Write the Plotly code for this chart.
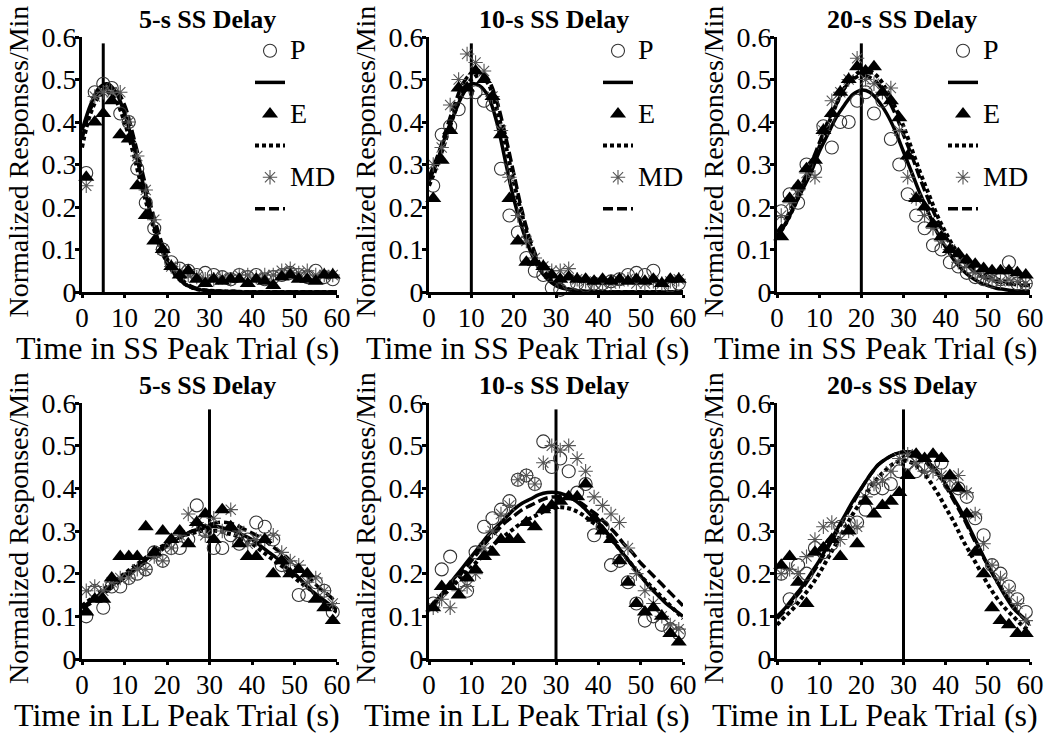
import plotly.graph_objects as go

# ---------------- data ----------------
x_pts = [1, 3, 5, 7, 9, 11, 13, 15, 17, 19, 21, 23, 25, 27, 29,
         31, 33, 35, 37, 39, 41, 43, 45, 47, 49, 51, 53, 55, 57, 59]
curve_x = [0, 2, 4, 6, 8, 10, 12, 14, 16, 18, 20, 22, 24, 26, 28, 30,
           32, 34, 36, 38, 40, 42, 44, 46, 48, 50, 52, 54, 56, 58, 60]

panel_titles = ["5-s SS Delay", "10-s SS Delay", "20-s SS Delay",
                "5-s SS Delay", "10-s SS Delay", "20-s SS Delay"]
x_titles = ["Time in SS Peak Trial (s)"] * 3 + ["Time in LL Peak Trial (s)"] * 3
y_title = "Normalized Responses/Min"
delays = [5, 10, 20, 30, 30, 30]
vline_top = 0.585
x_ticks = [0, 10, 20, 30, 40, 50, 60]
y_ticks = [0, 0.1, 0.2, 0.3, 0.4, 0.5, 0.6]
y_ticktext = ["0", "0.1", "0.2", "0.3", "0.4", "0.5", "0.6"]
series_names = ["P", "E", "MD"]

# Panel 1: 5-s SS delay, SS peak trials
P1 = [0.28, 0.47, 0.49, 0.48, 0.42, 0.40, 0.29, 0.21, 0.15, 0.10,
      0.07, 0.055, 0.05, 0.04, 0.045, 0.04, 0.035, 0.03, 0.04, 0.035,
      0.04, 0.03, 0.035, 0.04, 0.045, 0.04, 0.035, 0.05, 0.035, 0.03]
E1 = [0.27, 0.40, 0.42, 0.45, 0.37, 0.36, 0.25, 0.18, 0.12, 0.10,
      0.06, 0.04, 0.05, 0.03, 0.02, 0.03, 0.025, 0.03, 0.03, 0.02,
      0.03, 0.025, 0.015, 0.035, 0.04, 0.03, 0.03, 0.025, 0.04, 0.04]
MD1 = [0.25, 0.46, 0.47, 0.47, 0.47, 0.40, 0.32, 0.24, 0.17, 0.10,
       0.06, 0.05, 0.04, 0.035, 0.03, 0.03, 0.035, 0.03, 0.04, 0.04,
       0.035, 0.04, 0.04, 0.05, 0.055, 0.045, 0.05, 0.04, 0.04, 0.04]
fitP1 = [0.38, 0.44, 0.48, 0.49, 0.47, 0.42, 0.35, 0.27, 0.19, 0.12,
         0.07, 0.04, 0.02, 0.01, 0.005, 0.003, 0.002, 0.001, 0.001, 0,
         0, 0, 0, 0, 0, 0, 0, 0, 0, 0, 0]
fitE1 = [0.34, 0.42, 0.46, 0.47, 0.45, 0.40, 0.33, 0.25, 0.18, 0.115,
         0.07, 0.04, 0.02, 0.01, 0.005, 0.003, 0.002, 0.001, 0.001, 0,
         0, 0, 0, 0, 0, 0, 0, 0, 0, 0, 0]
fitMD1 = [0.36, 0.43, 0.47, 0.48, 0.475, 0.44, 0.37, 0.29, 0.21, 0.14,
          0.08, 0.045, 0.025, 0.012, 0.006, 0.003, 0.002, 0.001, 0.001, 0,
          0, 0, 0, 0, 0, 0, 0, 0, 0, 0, 0]

# Panel 2: 10-s SS delay, SS peak trials
P2 = [0.25, 0.37, 0.39, 0.43, 0.47, 0.47, 0.45, 0.44, 0.29, 0.18,
      0.14, 0.08, 0.05, 0.04, 0.01, 0.005, 0.02, 0.02, 0.015, 0.02,
      0.02, 0.025, 0.03, 0.04, 0.045, 0.04, 0.05, 0.01, 0.015, 0.02]
E2 = [0.22, 0.31, 0.38, 0.48, 0.48, 0.52, 0.50, 0.46, 0.37, 0.22,
      0.12, 0.07, 0.07, 0.06, 0.04, 0.03, 0.035, 0.03, 0.03, 0.025,
      0.03, 0.025, 0.03, 0.025, 0.03, 0.025, 0.03, 0.02, 0.03, 0.03]
MD2 = [0.30, 0.34, 0.44, 0.50, 0.56, 0.54, 0.52, 0.46, 0.38, 0.27,
       0.18, 0.12, 0.08, 0.06, 0.05, 0.05, 0.055, 0.03, 0.025, 0.02,
       0.02, 0.02, 0.025, 0.03, 0.02, 0.02, 0.025, 0.02, 0.025, 0.03]
fitP2 = [0.26, 0.31, 0.37, 0.42, 0.465, 0.49, 0.485, 0.46, 0.40, 0.31,
         0.22, 0.15, 0.095, 0.055, 0.03, 0.015, 0.008, 0.004, 0.002, 0.001,
         0, 0, 0, 0, 0, 0, 0, 0, 0, 0, 0]
fitE2 = [0.25, 0.30, 0.36, 0.42, 0.47, 0.50, 0.51, 0.49, 0.43, 0.35,
         0.26, 0.18, 0.11, 0.065, 0.035, 0.018, 0.009, 0.004, 0.002, 0.001,
         0, 0, 0, 0, 0, 0, 0, 0, 0, 0, 0]
fitMD2 = [0.27, 0.32, 0.38, 0.44, 0.49, 0.515, 0.52, 0.50, 0.45, 0.37,
          0.28, 0.19, 0.12, 0.07, 0.04, 0.02, 0.01, 0.005, 0.002, 0.001,
          0, 0, 0, 0, 0, 0, 0, 0, 0, 0, 0]

# Panel 3: 20-s SS delay, SS peak trials
P3 = [0.19, 0.23, 0.21, 0.30, 0.29, 0.39, 0.34, 0.40, 0.40, 0.45,
      0.47, 0.42, 0.45, 0.36, 0.30, 0.23, 0.18, 0.15, 0.11, 0.10,
      0.07, 0.06, 0.045, 0.035, 0.03, 0.025, 0.03, 0.07, 0.02, 0.02]
E3 = [0.13, 0.22, 0.25, 0.29, 0.31, 0.38, 0.42, 0.47, 0.50, 0.53,
      0.52, 0.53, 0.47, 0.45, 0.41, 0.32, 0.22, 0.20, 0.16, 0.13,
      0.10, 0.09, 0.075, 0.065, 0.055, 0.05, 0.05, 0.05, 0.045, 0.04]
MD3 = [0.18, 0.21, 0.24, 0.28, 0.27, 0.38, 0.45, 0.47, 0.50, 0.55,
       0.50, 0.49, 0.47, 0.48, 0.38, 0.27, 0.22, 0.18, 0.15, 0.12,
       0.10, 0.07, 0.06, 0.045, 0.035, 0.03, 0.025, 0.03, 0.025, 0.02]
fitP3 = [0.13, 0.16, 0.20, 0.24, 0.28, 0.33, 0.37, 0.41, 0.44, 0.465,
         0.475, 0.47, 0.45, 0.42, 0.38, 0.33, 0.28, 0.23, 0.185, 0.14,
         0.105, 0.075, 0.052, 0.035, 0.023, 0.015, 0.009, 0.006, 0.003, 0.002, 0.001]
fitE3 = [0.13, 0.16, 0.20, 0.245, 0.29, 0.34, 0.39, 0.44, 0.48, 0.505,
         0.52, 0.52, 0.505, 0.475, 0.435, 0.39, 0.335, 0.28, 0.23, 0.18,
         0.14, 0.105, 0.08, 0.06, 0.045, 0.035, 0.03, 0.025, 0.022, 0.02, 0.02]
fitMD3 = [0.14, 0.17, 0.21, 0.255, 0.30, 0.35, 0.40, 0.44, 0.48, 0.50,
          0.51, 0.505, 0.49, 0.46, 0.42, 0.37, 0.32, 0.265, 0.215, 0.17,
          0.13, 0.10, 0.075, 0.055, 0.04, 0.03, 0.025, 0.02, 0.018, 0.016, 0.015]

# Panel 4: 5-s SS delay, LL peak trials
P4 = [0.10, 0.16, 0.12, 0.17, 0.17, 0.19, 0.20, 0.21, 0.25, 0.23,
      0.26, 0.26, 0.28, 0.36, 0.30, 0.26, 0.26, 0.29, 0.27, 0.28,
      0.32, 0.31, 0.28, 0.22, 0.21, 0.15, 0.15, 0.18, 0.16, 0.11]
E4 = [0.11, 0.14, 0.14, 0.19, 0.24, 0.24, 0.24, 0.31, 0.25, 0.30,
      0.28, 0.30, 0.27, 0.32, 0.34, 0.28, 0.35, 0.31, 0.27, 0.24,
      0.24, 0.28, 0.20, 0.23, 0.20, 0.21, 0.20, 0.14, 0.12, 0.09]
MD4 = [0.16, 0.17, 0.16, 0.18, 0.19, 0.19, 0.21, 0.21, 0.24, 0.23,
       0.26, 0.29, 0.34, 0.32, 0.29, 0.33, 0.30, 0.35, 0.30, 0.27,
       0.28, 0.28, 0.29, 0.25, 0.23, 0.22, 0.18, 0.19, 0.16, 0.13]
fitP4 = [0.12, 0.135, 0.15, 0.165, 0.18, 0.195, 0.21, 0.225, 0.24, 0.255,
         0.27, 0.28, 0.29, 0.30, 0.305, 0.31, 0.31, 0.305, 0.30, 0.29,
         0.28, 0.265, 0.25, 0.235, 0.215, 0.20, 0.18, 0.16, 0.145, 0.13, 0.115]
fitE4 = [0.125, 0.14, 0.155, 0.17, 0.185, 0.20, 0.215, 0.23, 0.245, 0.26,
         0.27, 0.28, 0.29, 0.295, 0.30, 0.30, 0.30, 0.295, 0.29, 0.28,
         0.27, 0.255, 0.24, 0.225, 0.21, 0.19, 0.175, 0.16, 0.14, 0.125, 0.11]
fitMD4 = [0.12, 0.13, 0.145, 0.16, 0.175, 0.19, 0.205, 0.22, 0.235, 0.25,
          0.265, 0.28, 0.29, 0.30, 0.31, 0.315, 0.32, 0.32, 0.315, 0.305,
          0.295, 0.285, 0.27, 0.255, 0.24, 0.22, 0.205, 0.185, 0.165, 0.15, 0.13]

# Panel 5: 10-s SS delay, LL peak trials
P5 = [0.13, 0.21, 0.24, 0.18, 0.16, 0.25, 0.31, 0.33, 0.35, 0.37,
      0.42, 0.43, 0.41, 0.51, 0.45, 0.47, 0.44, 0.39, 0.41, 0.29,
      0.31, 0.22, 0.23, 0.18, 0.13, 0.09, 0.10, 0.08, 0.07, 0.06]
E5 = [0.12, 0.17, 0.17, 0.15, 0.19, 0.21, 0.24, 0.25, 0.28, 0.28,
      0.28, 0.32, 0.31, 0.35, 0.36, 0.37, 0.38, 0.38, 0.41, 0.33,
      0.30, 0.28, 0.23, 0.18, 0.13, 0.11, 0.12, 0.10, 0.06, 0.04]
MD5 = [0.12, 0.14, 0.12, 0.16, 0.17, 0.20, 0.26, 0.30, 0.34, 0.36,
       0.42, 0.43, 0.41, 0.46, 0.50, 0.49, 0.50, 0.47, 0.44, 0.38,
       0.36, 0.34, 0.32, 0.26, 0.20, 0.16, 0.13, 0.10, 0.08, 0.07]
fitP5 = [0.12, 0.14, 0.165, 0.19, 0.215, 0.24, 0.265, 0.29, 0.31, 0.33,
         0.35, 0.365, 0.375, 0.385, 0.39, 0.39, 0.385, 0.375, 0.36, 0.34,
         0.32, 0.295, 0.27, 0.245, 0.22, 0.195, 0.17, 0.15, 0.13, 0.115, 0.10]
fitE5 = [0.12, 0.135, 0.155, 0.175, 0.195, 0.215, 0.235, 0.255, 0.275, 0.29,
         0.305, 0.32, 0.33, 0.34, 0.35, 0.355, 0.355, 0.35, 0.34, 0.325,
         0.31, 0.29, 0.27, 0.245, 0.22, 0.195, 0.175, 0.155, 0.135, 0.115, 0.095]
fitMD5 = [0.12, 0.14, 0.16, 0.18, 0.205, 0.23, 0.255, 0.28, 0.30, 0.32,
          0.335, 0.35, 0.36, 0.37, 0.378, 0.38, 0.38, 0.375, 0.365, 0.35,
          0.335, 0.315, 0.295, 0.27, 0.25, 0.225, 0.205, 0.185, 0.165, 0.145, 0.125]

# Panel 6: 20-s SS delay, LL peak trials
P6 = [0.20, 0.14, 0.22, 0.20, 0.26, 0.25, 0.27, 0.31, 0.32, 0.32,
      0.35, 0.40, 0.40, 0.41, 0.44, 0.46, 0.44, 0.45, 0.46, 0.46,
      0.41, 0.40, 0.38, 0.33, 0.29, 0.22, 0.20, 0.17, 0.14, 0.11]
E6 = [0.22, 0.24, 0.18, 0.13, 0.25, 0.26, 0.28, 0.24, 0.30, 0.27,
      0.37, 0.34, 0.36, 0.37, 0.39, 0.43, 0.48, 0.47, 0.48, 0.47,
      0.43, 0.40, 0.34, 0.25, 0.20, 0.12, 0.09, 0.08, 0.06, 0.06]
MD6 = [0.20, 0.21, 0.20, 0.24, 0.28, 0.31, 0.32, 0.28, 0.30, 0.31,
       0.38, 0.41, 0.42, 0.44, 0.47, 0.48, 0.46, 0.44, 0.44, 0.43,
       0.42, 0.43, 0.39, 0.34, 0.27, 0.22, 0.19, 0.16, 0.13, 0.09]
fitP6 = [0.10, 0.12, 0.145, 0.17, 0.20, 0.23, 0.265, 0.30, 0.335, 0.37,
         0.40, 0.43, 0.455, 0.47, 0.48, 0.485, 0.485, 0.475, 0.46, 0.44,
         0.41, 0.375, 0.34, 0.30, 0.26, 0.22, 0.185, 0.15, 0.12, 0.10, 0.08]
fitE6 = [0.08, 0.10, 0.12, 0.145, 0.17, 0.20, 0.235, 0.27, 0.305, 0.34,
         0.37, 0.40, 0.425, 0.445, 0.46, 0.465, 0.46, 0.445, 0.42, 0.39,
         0.355, 0.32, 0.28, 0.245, 0.21, 0.175, 0.145, 0.12, 0.10, 0.08, 0.065]
fitMD6 = [0.095, 0.115, 0.14, 0.165, 0.195, 0.225, 0.26, 0.295, 0.33, 0.365,
          0.40, 0.43, 0.455, 0.47, 0.48, 0.485, 0.48, 0.47, 0.455, 0.435,
          0.405, 0.37, 0.335, 0.295, 0.255, 0.22, 0.185, 0.155, 0.125, 0.10, 0.085]

points = [(P1, E1, MD1), (P2, E2, MD2), (P3, E3, MD3),
          (P4, E4, MD4), (P5, E5, MD5), (P6, E6, MD6)]
fits = [(fitP1, fitE1, fitMD1), (fitP2, fitE2, fitMD2), (fitP3, fitE3, fitMD3),
        (fitP4, fitE4, fitMD4), (fitP5, fitE5, fitMD5), (fitP6, fitE6, fitMD6)]

# ---------------- layout geometry ----------------
W, H = 1050, 741
col_px = [(82, 337), (429, 683), (777, 1030)]
row_px = [(37, 292), (403, 659)]
xtitle_cx = [177, 527, 875]
FONT = "Liberation Serif"

fig = go.Figure()

line_styles = [dict(dash="solid", width=3.5),
               dict(dash="4px,3px", width=4),
               dict(dash="10px,4px", width=3.5)]
marker_styles = [dict(symbol="circle-open", size=13, color="#333333", line=dict(width=1.1, color="#333333")),
                 dict(symbol="triangle-up", size=14, color="black", line=dict(width=0)),
                 dict(symbol="asterisk-open", size=12, color="#555555", line=dict(width=1.1, color="#555555"))]
legend_ids = ["legend", "legend2", "legend3"]

for i in range(6):
    xa = "x" if i == 0 else f"x{i+1}"
    ya = "y" if i == 0 else f"y{i+1}"
    show = i < 3
    lg = legend_ids[i] if show else "legend"
    # fitted curves
    for k in range(3):
        fig.add_trace(go.Scatter(
            x=curve_x, y=fits[i][k], mode="lines", xaxis=xa, yaxis=ya,
            line=dict(color="black", shape="spline", **line_styles[k]),
            name=" ", showlegend=show, legend=lg, legendrank=2 * k + 2,
            hoverinfo="skip"))
    # vertical delay line
    fig.add_trace(go.Scatter(
        x=[delays[i], delays[i]], y=[0, vline_top], mode="lines",
        xaxis=xa, yaxis=ya, line=dict(color="black", width=3),
        showlegend=False, hoverinfo="skip"))
    # data points: P, MD, E (E on top)
    for k in (0, 2, 1):
        fig.add_trace(go.Scatter(
            x=x_pts, y=points[i][k], mode="markers", xaxis=xa, yaxis=ya,
            marker=marker_styles[k], cliponaxis=False,
            name=f'<span style="font-size:28px">{series_names[k]}</span>',
            showlegend=show, legend=lg, legendrank=2 * k + 1))

axis_common = dict(showgrid=False, zeroline=False, showline=True,
                   linecolor="black", linewidth=3, ticks="outside",
                   tickcolor="black", tickwidth=2.5, automargin=False)

layout = dict(width=W, height=H,
              margin=dict(l=0, r=0, t=0, b=0, autoexpand=False),
              paper_bgcolor="white", plot_bgcolor="white",
              font=dict(family=FONT, color="black"))
annotations = []
for i in range(6):
    r, c = divmod(i, 3)
    x0, x1 = col_px[c]
    y0, y1 = row_px[r]
    xd = [x0 / W, x1 / W]
    yd = [1 - y1 / H, 1 - y0 / H]
    sx = "" if i == 0 else str(i + 1)
    layout[f"xaxis{sx}"] = dict(domain=xd, range=[0, 60], tickvals=x_ticks,
                                ticklen=3, ticklabelstandoff=-3,
                                tickfont=dict(family=FONT, size=27, color="black"),
                                anchor=f"y{sx}", **axis_common)
    layout[f"yaxis{sx}"] = dict(domain=yd, range=[0, 0.6], tickvals=y_ticks,
                                ticktext=y_ticktext, ticklen=4,
                                ticklabelstandoff=-7,
                                tickfont=dict(family=FONT, size=28, color="black"),
                                anchor=f"x{sx}", **axis_common)
    cx = (x0 + x1) / 2
    # panel title
    annotations.append(dict(text=f"<b>{panel_titles[i]}</b>", x=(cx - 2) / W,
                            y=1 - (y0 - 18) / H, xref="paper", yref="paper",
                            xanchor="center", yanchor="middle", showarrow=False,
                            font=dict(family=FONT, size=26, color="black")))
    # x-axis title
    annotations.append(dict(text=x_titles[i], x=xtitle_cx[c] / W,
                            y=1 - (y1 + 56) / H, xref="paper", yref="paper",
                            xanchor="center", yanchor="middle", showarrow=False,
                            font=dict(family=FONT, size=32, color="black")))
    # y-axis title
    annotations.append(dict(text=y_title, x=(x0 - 64) / W,
                            y=1 - ((y0 + y1) / 2 - 3) / H, xref="paper", yref="paper",
                            xanchor="center", yanchor="middle", showarrow=False,
                            textangle=-90,
                            font=dict(family=FONT, size=28, color="black")))
layout["annotations"] = annotations

legend_left_px = [250, 598, 943]
for j, lid in enumerate(legend_ids):
    layout[lid] = dict(x=legend_left_px[j] / W, y=1 - 30 / H,
                       xanchor="left", yanchor="top",
                       bgcolor="rgba(0,0,0,0)", borderwidth=0,
                       traceorder="normal", itemwidth=30,
                       font=dict(family=FONT, size=22, color="black"))

fig.update_layout(**layout)
fig.write_html("out.html", config={"displayModeBar": False},
               post_script="document.body.style.margin='0px';")
